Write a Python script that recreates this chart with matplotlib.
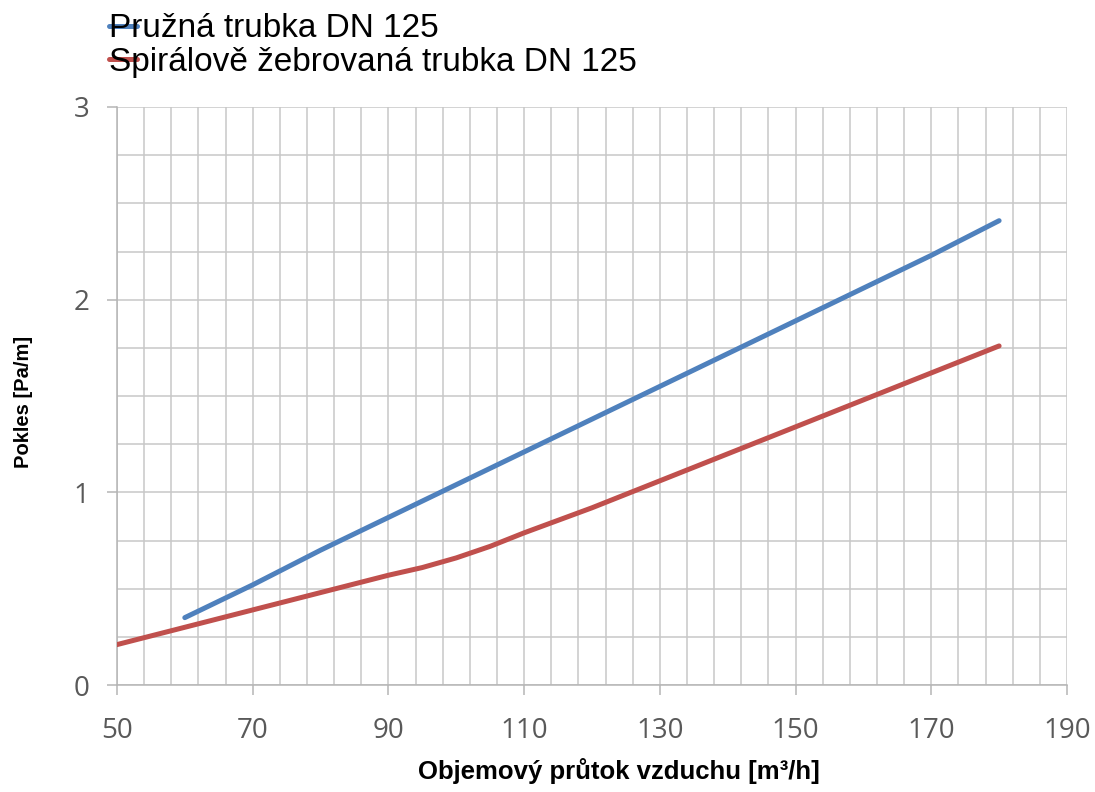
import numpy as np
import matplotlib.pyplot as plt
from matplotlib.ticker import FixedLocator

# values
flow_pruzna = [60, 70, 80, 90, 100, 110, 120, 130, 140, 150, 160, 170, 180]
loss_pruzna = [0.35, 0.52, 0.70, 0.87, 1.04, 1.21, 1.38, 1.55, 1.72, 1.89, 2.06, 2.23, 2.41]

flow_spiral = [50, 60, 70, 80, 90, 95, 100, 105, 110, 115, 120, 130, 140, 150, 160, 170, 180]
loss_spiral = [0.21, 0.30, 0.39, 0.48, 0.57, 0.61, 0.66, 0.72, 0.79, 0.855, 0.92,
               1.06, 1.20, 1.34, 1.48, 1.62, 1.76]

label_pruzna = "Pružná trubka DN 125"
label_spiral = "Spirálově žebrovaná trubka DN 125"

x_major = np.arange(50, 191, 20)
x_minor = np.arange(50, 191, 4)
y_major = [0, 1, 2, 3]
y_minor = np.arange(0, 3.01, 0.25)

fig = plt.figure(figsize=(10.95, 7.92), dpi=100)
ax = fig.add_axes([0.1068, 0.135, 0.8676, 0.7299])

ax.plot(flow_pruzna, loss_pruzna, color='#4f81bd', lw=3.6, solid_capstyle='round',
        label=label_pruzna, zorder=3)
ax.plot(flow_spiral, loss_spiral, color='#c0504d', lw=3.6, solid_capstyle='round',
        label=label_spiral, zorder=3)

ax.set_xlim(50, 190)
ax.set_ylim(0, 3)
ax.xaxis.set_major_locator(FixedLocator(x_major))
ax.xaxis.set_minor_locator(FixedLocator(x_minor))
ax.yaxis.set_major_locator(FixedLocator(y_major))
ax.yaxis.set_minor_locator(FixedLocator(y_minor))

ax.grid(which='both', color='#c8c8c8', lw=1.1, zorder=0)
ax.set_axisbelow(True)

for s in ['top', 'right']:
    ax.spines[s].set_visible(False)
for s in ['left', 'bottom']:
    ax.spines[s].set_color('#b5b5b5')
    ax.spines[s].set_linewidth(1.1)

ax.tick_params(which='major', length=7, width=1.1, color='#b5b5b5',
               labelsize=20, labelcolor='#595959', pad=13)
ax.tick_params(axis='x', which='major', pad=16)
ax.tick_params(which='minor', length=0)
for lbl in ax.get_xticklabels() + ax.get_yticklabels():
    lbl.set_fontfamily('Open Sans')

ax.set_xlabel("Objemový průtok vzduchu [m³/h]", fontsize=18.5, fontweight='bold',
              family='Liberation Sans')
ax.xaxis.set_label_coords(0.528, -0.127)
ax.set_ylabel("Pokles [Pa/m]", fontsize=14.5, fontweight='bold', family='Liberation Sans')
ax.yaxis.set_label_coords(-0.088, 0.49)

leg = fig.legend(loc='upper left', bbox_to_anchor=(0.087, 1.0), frameon=False,
                 prop={'family': 'Liberation Sans', 'size': 24},
                 handlelength=0.85, handletextpad=-0.85, labelspacing=0.08,
                 borderaxespad=0)

fig.savefig('out.png', dpi=100)
